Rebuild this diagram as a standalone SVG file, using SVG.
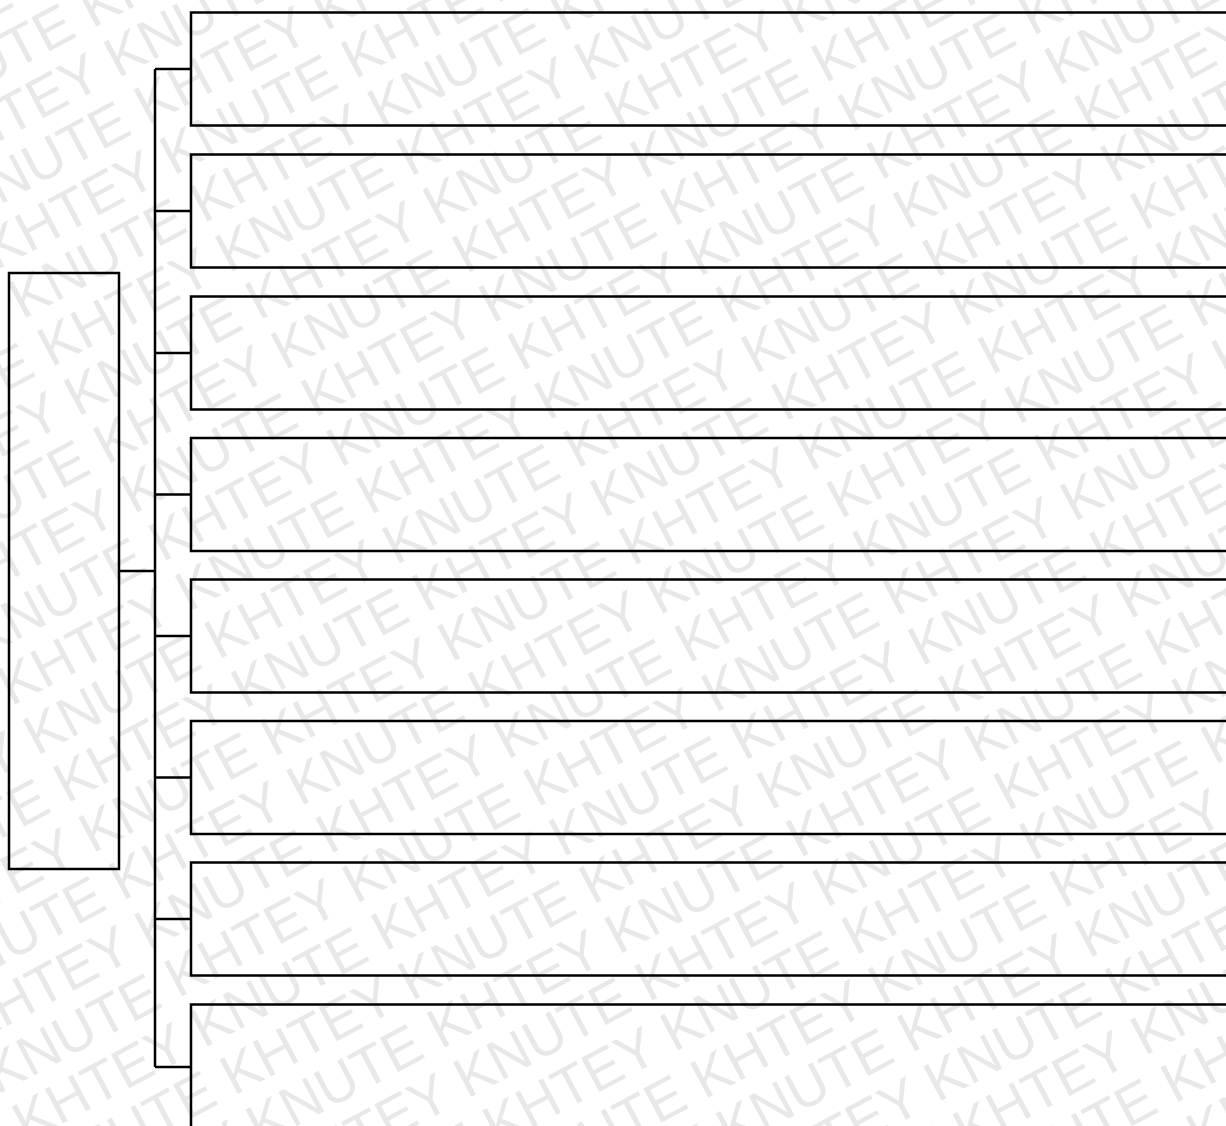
<svg xmlns="http://www.w3.org/2000/svg" xmlns:xlink="http://www.w3.org/1999/xlink" width="1226" height="1126" viewBox="0 0 1226 1126">
<style>
.wm{font-family:"Liberation Sans",Arial,sans-serif;font-size:56px;fill:#e8e8e8}
.box{fill:none;stroke:#000;stroke-width:2.5}
.conn{fill:none;stroke:#000;stroke-width:2.5}
</style>
<defs>
<text id="wmrow" class="wm" x="0" y="0">KNUTE KHTEY KNUTE KHTEY KNUTE KHTEY KNUTE KHTEY KNUTE KHTEY KNUTE KHTEY KNUTE KHTEY</text>
</defs>
<rect width="1226" height="1126" fill="#fff"/>
<g id="watermark" transform="rotate(-28)">
<use xlink:href="#wmrow" x="-1156.1" y="12.55"/>
<use xlink:href="#wmrow" x="-950.6" y="68.6"/>
<use xlink:href="#wmrow" x="-1152.7" y="124.65"/>
<use xlink:href="#wmrow" x="-947.2" y="180.7"/>
<use xlink:href="#wmrow" x="-1149.3" y="236.75"/>
<use xlink:href="#wmrow" x="-943.8" y="292.8"/>
<use xlink:href="#wmrow" x="-1145.9" y="348.85"/>
<use xlink:href="#wmrow" x="-940.4" y="404.9"/>
<use xlink:href="#wmrow" x="-1142.5" y="460.95"/>
<use xlink:href="#wmrow" x="-937.0" y="517.0"/>
<use xlink:href="#wmrow" x="-1139.1" y="573.05"/>
<use xlink:href="#wmrow" x="-933.6" y="629.1"/>
<use xlink:href="#wmrow" x="-1135.7" y="685.15"/>
<use xlink:href="#wmrow" x="-930.2" y="741.2"/>
<use xlink:href="#wmrow" x="-1132.3" y="797.25"/>
<use xlink:href="#wmrow" x="-926.8" y="853.3"/>
<use xlink:href="#wmrow" x="-1128.9" y="909.35"/>
<use xlink:href="#wmrow" x="-923.4" y="965.4"/>
<use xlink:href="#wmrow" x="-1125.5" y="1021.45"/>
<use xlink:href="#wmrow" x="-920.0" y="1077.5"/>
<use xlink:href="#wmrow" x="-1122.1" y="1133.55"/>
<use xlink:href="#wmrow" x="-916.6" y="1189.6"/>
<use xlink:href="#wmrow" x="-1118.7" y="1245.65"/>
<use xlink:href="#wmrow" x="-913.2" y="1301.7"/>
<use xlink:href="#wmrow" x="-1115.3" y="1357.75"/>
<use xlink:href="#wmrow" x="-909.8" y="1413.8"/>
<use xlink:href="#wmrow" x="-1111.9" y="1469.85"/>
<use xlink:href="#wmrow" x="-906.4" y="1525.9"/>
<use xlink:href="#wmrow" x="-1108.5" y="1581.95"/>
</g>
<g id="connectors">
<line class="conn" x1="119" y1="571" x2="155" y2="571"/>
<line class="conn" x1="155" y1="69" x2="155" y2="1067"/>
<line class="conn" x1="155" y1="69" x2="191" y2="69"/>
<line class="conn" x1="155" y1="211" x2="191" y2="211"/>
<line class="conn" x1="155" y1="353" x2="191" y2="353"/>
<line class="conn" x1="155" y1="494.5" x2="191" y2="494.5"/>
<line class="conn" x1="155" y1="636" x2="191" y2="636"/>
<line class="conn" x1="155" y1="777.5" x2="191" y2="777.5"/>
<line class="conn" x1="155" y1="919" x2="191" y2="919"/>
<line class="conn" x1="155" y1="1067" x2="191" y2="1067"/>
</g>
<g id="root"><rect class="box" x="9" y="273" width="110" height="596"/></g>
<g id="item1"><rect class="box" x="191" y="12.5" width="1100" height="113"/></g>
<g id="item2"><rect class="box" x="191" y="154.5" width="1100" height="113"/></g>
<g id="item3"><rect class="box" x="191" y="296.5" width="1100" height="113"/></g>
<g id="item4"><rect class="box" x="191" y="438" width="1100" height="113"/></g>
<g id="item5"><rect class="box" x="191" y="579.5" width="1100" height="113"/></g>
<g id="item6"><rect class="box" x="191" y="721" width="1100" height="113"/></g>
<g id="item7"><rect class="box" x="191" y="862.5" width="1100" height="113"/></g>
<g id="item8"><rect class="box" x="191" y="1004.5" width="1100" height="200"/></g>
</svg>
